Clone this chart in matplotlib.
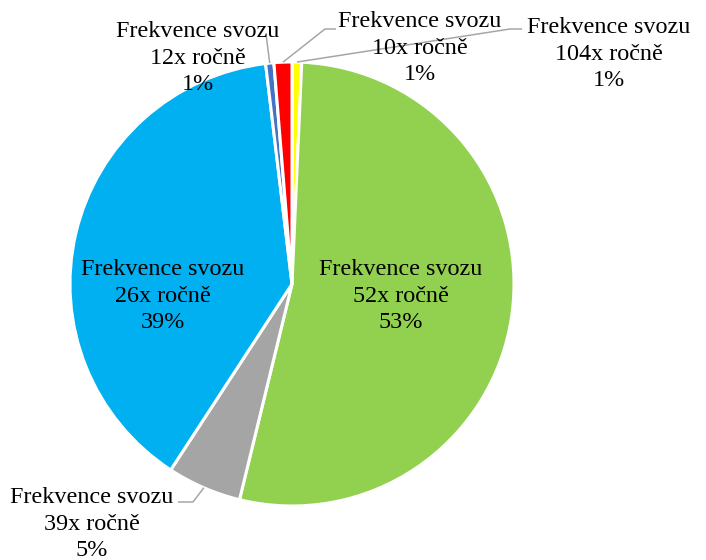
import numpy as np
import matplotlib
matplotlib.use("Agg")
import matplotlib.pyplot as plt

W, H = 706, 560

frequencies = ["104x", "52x", "39x", "26x", "12x", "10x"]
shares = [0.7, 53.1, 5.4, 38.9, 0.6, 1.3]
colors = ["#FFFF00", "#92D050", "#A5A5A5", "#00B0F0", "#4472C4", "#FF0000"]

# label centres in pixel coordinates (x, y from top)
label_pos = [(609, 54), (401, 296), (92, 524), (163, 296), (198, 58), (420, 48)]
# leader elbows (None -> label sits inside the slice)
leader_bends = [
    [(510, 29), (522, 29)],
    None,
    [(193, 502), (178, 502)],
    None,
    [(266, 34)],
    [(325, 29), (336, 29)],
]

CENTER = (292, H - 284)
RADIUS = 222

plt.rcParams["font.family"] = ["Liberation Serif", "DejaVu Serif"]

fig = plt.figure(figsize=(W / 100, H / 100), dpi=100)
ax = fig.add_axes([0, 0, 1, 1])

wedges, _ = ax.pie(
    shares,
    colors=colors,
    startangle=90,
    counterclock=False,
    center=CENTER,
    radius=RADIUS,
    wedgeprops=dict(edgecolor="white", linewidth=2.2),
)
ax.set_xlim(0, W)
ax.set_ylim(0, H)
ax.set_aspect("equal")
ax.axis("off")

for wedge, freq, share, pos, bends in zip(wedges, frequencies, shares, label_pos, leader_bends):
    text = f"Frekvence svozu\n{freq} ročně\n{share:.0f}%"
    ax.text(pos[0], H - pos[1], text, ha="center", va="center",
            fontsize=17.4, linespacing=1.32, color="#000000")
    if bends is None:
        continue
    mid = np.deg2rad((wedge.theta1 + wedge.theta2) / 2)
    start = (CENTER[0] + RADIUS * np.cos(mid), CENTER[1] + RADIUS * np.sin(mid))
    xs = [start[0]] + [b[0] for b in bends]
    ys = [start[1]] + [H - b[1] for b in bends]
    ax.plot(xs, ys, color="#A6A6A6", linewidth=1.1, solid_capstyle="butt")

fig.savefig("out.png", dpi=100)
